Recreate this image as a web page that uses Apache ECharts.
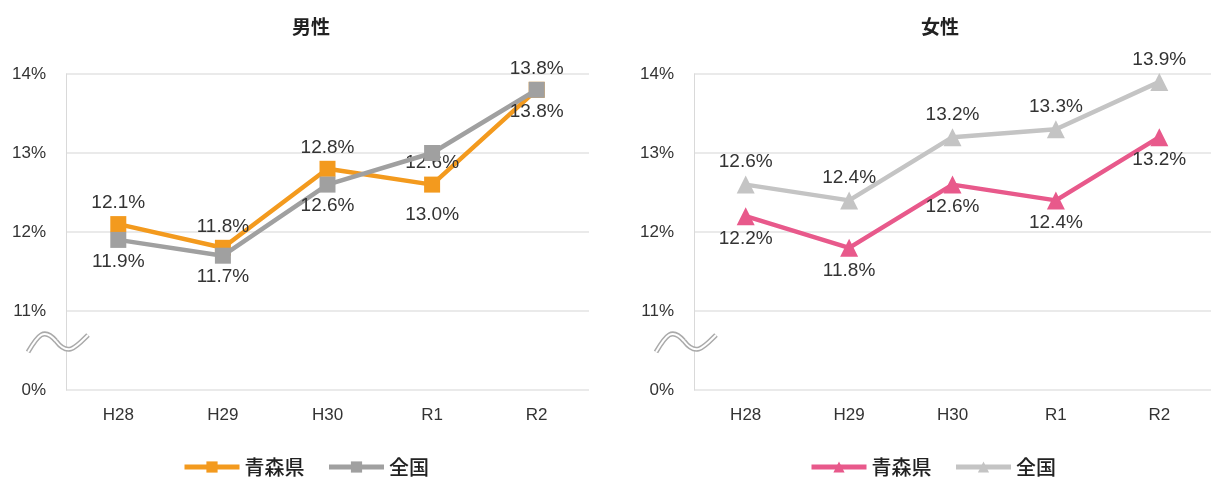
<!DOCTYPE html>
<html><head><meta charset="utf-8">
<script src="https://cdn.jsdelivr.net/npm/echarts@6/dist/echarts.min.js"></script>
<style>html,body{margin:0;padding:0;background:#fff}#c{width:1211px;height:477px}</style>
</head><body><div id="c"></div>
<script>
const categories = ['H28','H29','H30','R1','R2'];
const maleAomori = [12.1, 11.8, 12.8, 12.6, 13.8];
const maleNational = [11.9, 11.7, 12.6, 13.0, 13.8];
const femaleAomori = [12.2, 11.8, 12.6, 12.4, 13.2];
const femaleNational = [12.6, 12.4, 13.2, 13.3, 13.9];
const yTickLabels = {10:'0%', 11:'11%', 12:'12%', 13:'13%', 14:'14%'};

const FONT = '"Liberation Sans", Arial, "Noto Sans CJK JP", sans-serif';
const CJK = '"Noto Sans CJK JP", sans-serif';
const chart = echarts.init(document.getElementById('c'));

function yAxis(gi){
  return {gridIndex:gi, type:'value', min:10, max:14, interval:1,
    axisLine:{show:true, lineStyle:{color:'#d9d9d9', width:1}}, axisTick:{show:false},
    splitLine:{lineStyle:{color:'#e3e3e3', width:1.5}},
    axisLabel:{margin:20, color:'#333', fontSize:17, fontFamily:FONT, formatter:v=>yTickLabels[v]}};
}
function xAxis(gi){
  return {gridIndex:gi, type:'category', data:categories, boundaryGap:true,
    axisLine:{show:false}, axisTick:{show:false},
    axisLabel:{margin:17, color:'#333', fontSize:17, fontFamily:FONT}};
}
const lbl = {show:true, fontSize:19, color:'#333', fontFamily:FONT, formatter:p=>p.value.toFixed(1)+'%'};
function series(name, gi, data, color, symbol, pos, extra){
  return {name, type:'line', xAxisIndex:gi, yAxisIndex:gi,
    data:data.map((v,i)=>{ const d={value:v}; if(extra && extra[i]) d.label=extra[i]; return d;}),
    symbol, symbolSize: symbol==='rect'?16:18, lineStyle:{color, width:4.5}, itemStyle:{color},
    label:Object.assign({position:pos, distance:4}, lbl), z: gi===0 && name.indexOf('全国')>=0 ? 3 : 2};
}
function wave(x, y){
  const segs = [
    {x1:x, y1:y+17, cpx1:x+10, cpy1:y, cpx2:x+16, cpy2:y-8, x2:x+28, y2:y+6},
    {x1:x+28, y1:y+6, cpx1:x+40, cpy1:y+22, cpx2:x+48, cpy2:y+12, x2:x+60, y2:y}
  ];
  const out = [];
  segs.forEach(s=>{
    out.push({type:'bezierCurve', shape:s, style:{stroke:'#aaa', lineWidth:5, fill:null}, z:10});
  });
  segs.forEach(s=>{
    out.push({type:'bezierCurve', shape:s, style:{stroke:'#fff', lineWidth:2, fill:null}, z:11});
  });
  return out;
}
const nameFmt = n => n.split('|')[0];
const legendBase = {top:452, itemWidth:55, itemHeight:14, itemGap:22, formatter:nameFmt,
  lineStyle:{width:5}, textStyle:{fontSize:20, color:'#222', fontFamily:CJK, fontWeight:500}};
chart.setOption({
  animation:false,
  title:[
    {text:'男性', left:306, top:12, textAlign:'center', textStyle:{fontSize:19, fontWeight:'bold', color:'#222', fontFamily:CJK}},
    {text:'女性', left:935, top:12, textAlign:'center', textStyle:{fontSize:19, fontWeight:'bold', color:'#222', fontFamily:CJK}}
  ],
  grid:[
    {left:66, top:74, width:523, height:316},
    {left:694, top:74, width:521, height:316}
  ],
  xAxis:[xAxis(0), xAxis(1)],
  yAxis:[yAxis(0), yAxis(1)],
  legend:[
    Object.assign({data:['青森県|m','全国|m'], left:177}, legendBase),
    Object.assign({data:['青森県|f','全国|f'], left:804}, legendBase)
  ],
  graphic: wave(28, 335).concat(wave(656, 335)),
  series:[
    series('青森県|m', 0, maleAomori, '#f39a1e', 'rect', 'top'),
    series('全国|m', 0, maleNational, '#a0a0a0', 'rect', 'bottom', {3:{offset:[0,40]}}),
    series('青森県|f', 1, femaleAomori, '#e8598b', 'triangle', 'bottom'),
    series('全国|f', 1, femaleNational, '#c4c4c4', 'triangle', 'top')
  ]
});
</script></body></html>
